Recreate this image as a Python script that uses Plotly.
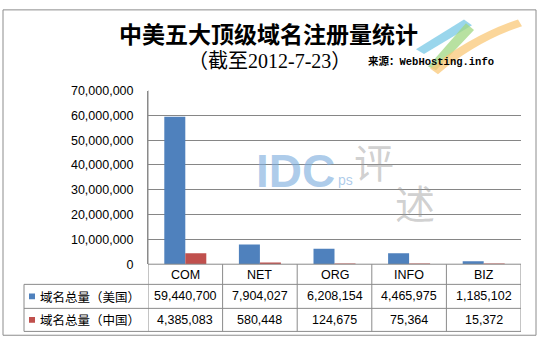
import plotly.graph_objects as go

# ---- data -------------------------------------------------------------
categories = ["COM", "NET", "ORG", "INFO", "BIZ"]
usa_totals = [59440700, 7904027, 6208154, 4465975, 1185102]
china_totals = [4385083, 580448, 124675, 75364, 15372]
series_names = ["域名总量（美国）", "域名总量（中国）"]
y_ticks = [0, 10000000, 20000000, 30000000, 40000000, 50000000, 60000000, 70000000]

title_text = "中美五大顶级域名注册量统计"
subtitle_text = "（截至2012-7-23）"
source_text = "来源：WebHosting.info"

# ---- canvas geometry (pixels) ----------------------------------------
W, H = 540, 348
PLOT_L, PLOT_R = 148, 521
PLOT_T, PLOT_B = 87, 268
ROW_LINES = [268, 289, 314, 338]
TABLE_L = 24

BLUE = "#4F81BD"
RED = "#C0504D"
GRID = "#868686"
LINE = "#8A8A8A"
SANS = "Liberation Sans, Arial, sans-serif"
CJK = "Noto Sans CJK SC, sans-serif"


def px(x):
    return x / W


def py(y):
    return 1 - y / H


def label(x, y, text, font, xref="paper", xanchor="center"):
    return dict(x=x, y=py(y), xref=xref, yref="paper", text=text, showarrow=False,
                xanchor=xanchor, yanchor="middle", font=font)


fig = go.Figure()
colors = [BLUE, RED]
for name, vals, col in zip(series_names, [usa_totals, china_totals], colors):
    fig.add_trace(go.Bar(x=categories, y=vals, name=name, marker_color=col,
                         marker_line_width=0, hoverinfo="x+y"))

shapes = []
# outer chart frame
shapes.append(dict(type="rect", xref="paper", yref="paper",
                   x0=px(3), x1=px(536), y0=py(342), y1=py(3),
                   line=dict(color="#8C8C8C", width=1)))
# data-table horizontal rules
shapes.append(dict(type="line", xref="paper", yref="paper",
                   x0=px(PLOT_L), x1=px(PLOT_R), y0=py(ROW_LINES[0]), y1=py(ROW_LINES[0]),
                   line=dict(color=LINE, width=1)))
for yy in ROW_LINES[1:]:
    shapes.append(dict(type="line", xref="paper", yref="paper",
                       x0=px(TABLE_L), x1=px(PLOT_R), y0=py(yy), y1=py(yy),
                       line=dict(color=LINE, width=1)))
# table verticals
shapes.append(dict(type="line", xref="paper", yref="paper",
                   x0=px(TABLE_L), x1=px(TABLE_L), y0=py(ROW_LINES[1]), y1=py(ROW_LINES[3]),
                   line=dict(color=LINE, width=1)))
for i in range(len(categories) + 1):
    shapes.append(dict(type="line", xref="x", yref="paper",
                       x0=i - 0.5, x1=i - 0.5,
                       y0=py(ROW_LINES[0] if i else PLOT_T), y1=py(ROW_LINES[3]),
                       line=dict(color=LINE, width=1)))
# legend keys in the table
row_centers = [301.5, 326]
for yc, col in zip(row_centers, colors):
    shapes.append(dict(type="rect", xref="paper", yref="paper",
                       x0=px(29), x1=px(35), y0=py(yc + 3), y1=py(yc - 3),
                       fillcolor=col, line=dict(width=0)))

# faint logo stripes in the top-right corner
logo = [
    ("M 416 44 L 424 49 L 472 19 L 464 13 Z", "rgba(120,200,230,0.75)"),
    ("M 428 62 L 436 66 L 474 24 L 466 17 Z", "rgba(160,215,130,0.75)"),
    ("M 430 64 Q 470 30 518 13 L 522 20 Q 476 36 438 70 Z", "rgba(250,200,120,0.75)"),
]
for path, fc in logo:
    pts = path.split()
    conv = []
    k = 0
    while k < len(pts):
        tok = pts[k]
        if tok in ("M", "L", "Q", "Z"):
            conv.append(tok)
            k += 1
        else:
            conv.append(f"{px(float(tok)):.5f},{py(float(pts[k + 1])):.5f}")
            k += 2
    shapes.append(dict(type="path", xref="paper", yref="paper", path=" ".join(conv),
                       fillcolor=fc, line=dict(width=0), layer="below"))

annotations = []
# title lines
annotations.append(label(px(268), 27, f"<b>{title_text}</b>",
                         dict(family=CJK, size=23, color="#000000")))
annotations.append(label(px(186), 56, subtitle_text,
                         dict(family="Liberation Serif, " + CJK, size=20, color="#000000"),
                         xanchor="left"))
annotations.append(label(px(366), 57, f"<b>{source_text}</b>",
                         dict(family="Liberation Mono, " + CJK, size=10.5, color="#000000"),
                         xanchor="left"))

# watermark
annotations.append(label(px(295), 171, "<b>IDC</b>",
                         dict(family=SANS, size=46, color="rgba(120,170,220,0.6)")))
annotations.append(label(px(345), 180, "ps",
                         dict(family=SANS, size=14, color="rgba(120,170,220,0.6)")))
annotations.append(label(px(374), 160, "评",
                         dict(family=CJK, size=40, color="rgba(150,150,150,0.45)")))
annotations.append(label(px(415), 203, "述",
                         dict(family=CJK, size=40, color="rgba(150,150,150,0.45)")))

# data table: header row, then one row per series
for c in categories:
    annotations.append(label(c, 279, c, dict(family=SANS, size=12.5, color="#000000"), xref="x"))
for name, vals, yc in zip(series_names, [usa_totals, china_totals], row_centers):
    annotations.append(label(px(38), yc, name, dict(family=CJK, size=12.5, color="#000000"),
                             xanchor="left"))
    for c, v in zip(categories, vals):
        annotations.append(label(c, yc, f"{v:,}", dict(family=SANS, size=12.5, color="#000000"),
                                 xref="x"))

fig.update_layout(
    width=W, height=H,
    margin=dict(l=0, r=0, t=0, b=0),
    paper_bgcolor="white", plot_bgcolor="white",
    barmode="group", bargap=0.437, bargroupgap=0,
    showlegend=False,
    shapes=shapes, annotations=annotations,
    xaxis=dict(domain=[px(PLOT_L), px(PLOT_R)], range=[-0.5, len(categories) - 0.5],
               showticklabels=False, showgrid=False, showline=False, zeroline=False,
               fixedrange=True),
    yaxis=dict(domain=[py(PLOT_B), py(PLOT_T)], range=[0, 70000000],
               tickvals=y_ticks, tickformat=",", showgrid=True, gridcolor=GRID, gridwidth=1,
               zeroline=False, showline=True, linecolor=LINE, linewidth=1,
               ticks="outside", ticklen=0, ticklabelstandoff=11,
               tickfont=dict(family=SANS, size=12.5, color="#000000"), fixedrange=True),
)

fig.write_html("out.html")
